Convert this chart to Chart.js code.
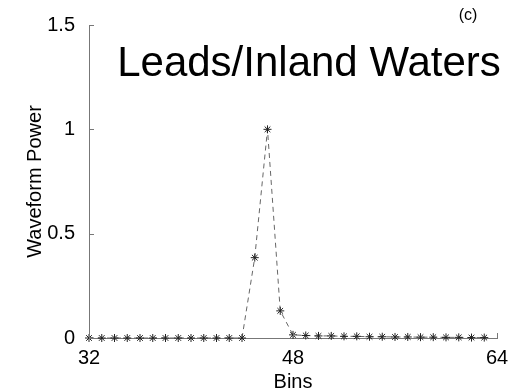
<!DOCTYPE html>
<html>
<head>
<meta charset="utf-8">
<script src="https://cdn.jsdelivr.net/npm/chart.js@4/dist/chart.umd.min.js"></script>
<style>
  html, body { margin: 0; padding: 0; background: #fff; }
  #wrap { width: 522px; height: 392px; }
</style>
</head>
<body>
<div id="wrap"><canvas id="wave"></canvas></div>
<script>
// range bins 32..63
var bins = [32,33,34,35,36,37,38,39,40,41,42,43,44,45,46,47,
            48,49,50,51,52,53,54,55,56,57,58,59,60,61,62,63];
// normalised waveform power per bin
var power = [0,0,0,0,0,0,0,0,0,0,0,0,0,0.385,1.0,0.13,
             0.015,0.012,0.01,0.01,0.008,0.008,0.006,0.006,0.005,0.005,0.004,0.004,0.003,0.003,0.002,0.002];
var xTicks = [32, 48, 64];
var yTicks = [0, 0.5, 1, 1.5];

var points = bins.map(function (b, i) { return { x: b, y: power[i] }; });
var FAMILY = '"Liberation Sans", Arial, sans-serif';

// big caption inside the plot, the panel letter, and short inward tick marks
var extras = {
  id: 'extras',
  afterDraw: function (chart) {
    var c = chart.ctx;
    var xs = chart.scales.x, ys = chart.scales.y;
    var a = chart.chartArea;
    c.save();
    c.strokeStyle = '#777';
    c.lineWidth = 1;
    c.beginPath();
    xTicks.forEach(function (v) {
      var px = Math.round(xs.getPixelForValue(v)) + 0.5;
      c.moveTo(px, a.bottom);
      c.lineTo(px, a.bottom - 5);
    });
    yTicks.forEach(function (v) {
      var py = Math.round(ys.getPixelForValue(v)) + 0.5;
      c.moveTo(a.left, py);
      c.lineTo(a.left + 5, py);
    });
    c.stroke();

    c.fillStyle = '#000';
    c.textAlign = 'center';
    c.textBaseline = 'middle';
    c.font = '42px ' + FAMILY;
    c.fillText('Leads/Inland Waters', 309, 64);
    c.font = '16px ' + FAMILY;
    c.fillText('(c)', 468, 16);
    c.restore();
  }
};

var tickFont = { family: FAMILY, size: 20 };
var titleFont = { family: FAMILY, size: 20, lineHeight: 1 };

new Chart(document.getElementById('wave'), {
  type: 'line',
  data: {
    datasets: [{
      data: points,
      borderColor: '#666',
      borderWidth: 1,
      borderDash: [5, 4],
      pointStyle: 'star',
      pointRadius: 4,
      pointBorderColor: '#222',
      pointBorderWidth: 1,
      pointBackgroundColor: '#222',
      tension: 0,
      clip: false
    }]
  },
  options: {
    responsive: true,
    maintainAspectRatio: false,
    animation: false,
    layout: { padding: { top: 25, right: 25, left: 0, bottom: 0 } },
    plugins: { legend: { display: false }, tooltip: { enabled: false } },
    scales: {
      x: {
        type: 'linear',
        min: 32,
        max: 64,
        afterBuildTicks: function (axis) { axis.ticks = xTicks.map(function (v) { return { value: v }; }); },
        afterFit: function (axis) { axis.height = 54; },
        grid: { display: false },
        border: { color: '#777' },
        ticks: { font: tickFont, color: '#000', padding: 0, maxRotation: 0 },
        title: { display: true, text: 'Bins', color: '#000', padding: { top: 0, bottom: 0 }, font: titleFont }
      },
      y: {
        min: 0,
        max: 1.5,
        afterBuildTicks: function (axis) { axis.ticks = yTicks.map(function (v) { return { value: v }; }); },
        afterFit: function (axis) { axis.width = 89; },
        grid: { display: false },
        border: { color: '#777' },
        ticks: {
          font: tickFont, color: '#000', padding: 6,
          callback: function (v) { return String(v); }
        },
        title: { display: true, text: 'Waveform Power', color: '#000', padding: { top: 25, bottom: 0 }, font: titleFont }
      }
    }
  },
  plugins: [extras]
});
</script>
</body>
</html>
